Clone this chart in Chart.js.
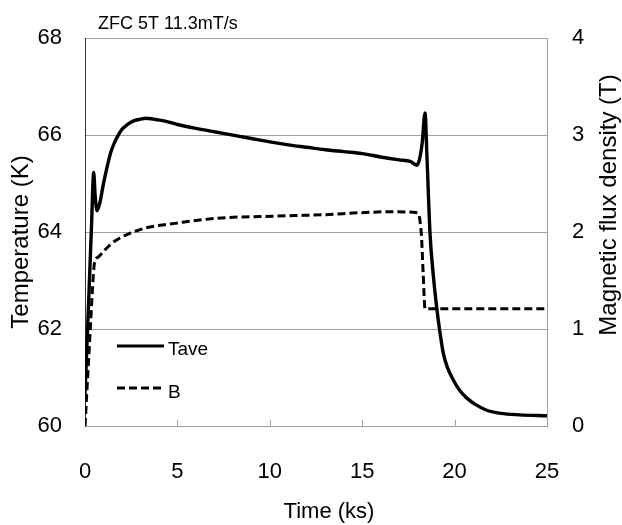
<!DOCTYPE html>
<html>
<head>
<meta charset="utf-8">
<script src="https://cdn.jsdelivr.net/npm/chart.js@4.4.1/dist/chart.umd.min.js"></script>
<style>
  html, body { margin: 0; padding: 0; background: #fff; }
  #wrap { width: 622px; height: 525px; }
</style>
</head>
<body>
<div id="wrap"><canvas id="tempChart" width="622" height="525"></canvas></div>
<script>
// ---- data ----
const chartTitle = "ZFC 5T 11.3mT/s";

// Tave (K) vs time (ks)
const taveTime = [0, 0.2, 0.35, 0.47, 0.55, 0.65, 0.8, 1.0, 1.2, 1.4, 1.6, 1.8, 2.0, 2.3, 2.6, 3.0, 3.3, 3.7, 4.2,
    5, 6, 7, 8, 9, 10, 11, 12, 13, 14, 15, 16, 17, 17.6, 17.95, 18.1, 18.25, 18.4, 18.5, 18.67, 18.85,
    19.03, 19.2, 19.39, 19.6, 19.93, 20.3, 20.65, 21.1, 21.7, 22.5, 23.5, 25];
const taveTemp = [60.65, 62.6, 64.1, 65.23, 64.75, 64.44, 64.6, 65.0, 65.35, 65.65, 65.85, 66.0, 66.12, 66.22, 66.29, 66.33, 66.35, 66.33, 66.3,
    66.22, 66.14, 66.07, 66.0, 65.93, 65.86, 65.8, 65.75, 65.7, 65.66, 65.62, 65.55, 65.49, 65.46, 65.38, 65.5, 65.85, 66.46, 65.6, 63.97, 63.1,
    62.45, 61.95, 61.5, 61.22, 60.95, 60.72, 60.58, 60.45, 60.33, 60.26, 60.23, 60.21];

// B (T) vs time (ks)
const bTime = [0, 0.1, 0.2, 0.3, 0.4, 0.52, 0.7, 1.0, 1.42, 1.9, 2.33, 3.23, 4.06, 4.85, 6, 7.67, 9.5, 11.3, 13, 14.9, 16.5, 17.98, 18.2, 18.3, 18.4, 25];
const bField = [0, 0.35, 0.7, 1.05, 1.4, 1.69, 1.74, 1.8, 1.88, 1.94, 1.98, 2.04, 2.07, 2.09, 2.12, 2.15, 2.16, 2.17, 2.18, 2.2, 2.21, 2.2, 1.98, 1.57, 1.21, 1.21];

const xTicks = [0, 5, 10, 15, 20, 25];
const tempTicks = [60, 62, 64, 66, 68];
const bTicks = [0, 1, 2, 3, 4];
const seriesNames = ["Tave", "B"];

const fontFam = "'Liberation Sans', Arial, sans-serif";

// titles, legend and inner tick marks
const extrasPlugin = {
    id: "extras",
    afterDraw(chart) {
        const ctx = chart.ctx;
        const area = chart.chartArea;
        const xs = chart.scales.x;
        ctx.save();
        // small inner ticks on bottom axis
        ctx.strokeStyle = "#a0a0a0";
        ctx.lineWidth = 1;
        xTicks.slice(1, -1).forEach(function (v) {
            const px = Math.round(xs.getPixelForValue(v)) + 0.5;
            ctx.beginPath();
            ctx.moveTo(px, area.bottom);
            ctx.lineTo(px, area.bottom - 6);
            ctx.stroke();
        });

        ctx.fillStyle = "#000";
        // chart title
        ctx.font = "18px " + fontFam;
        ctx.textAlign = "left";
        ctx.textBaseline = "alphabetic";
        ctx.fillText(chartTitle, 98, 29);

        // axis titles
        ctx.font = "22px " + fontFam;
        ctx.textAlign = "center";
        ctx.textBaseline = "middle";
        ctx.fillText("Time (ks)", 329, 512);

        ctx.save();
        ctx.translate(21, 242);
        ctx.rotate(-Math.PI / 2);
        ctx.font = "24px " + fontFam;
        ctx.fillText("Temperature (K)", 0, 0);
        ctx.restore();

        ctx.save();
        ctx.translate(609, 205);
        ctx.rotate(-Math.PI / 2);
        ctx.font = "24px " + fontFam;
        ctx.fillText("Magnetic flux density (T)", 0, 0);
        ctx.restore();

        // legend
        ctx.strokeStyle = "#000";
        ctx.lineWidth = 3;
        ctx.beginPath();
        ctx.moveTo(117, 346);
        ctx.lineTo(164, 346);
        ctx.stroke();
        ctx.setLineDash([8, 4]);
        ctx.beginPath();
        ctx.moveTo(117, 388);
        ctx.lineTo(164, 388);
        ctx.stroke();
        ctx.setLineDash([]);
        ctx.font = "19px " + fontFam;
        ctx.textAlign = "left";
        ctx.fillText(seriesNames[0], 168, 350);
        ctx.fillText(seriesNames[1], 168, 393);
        ctx.restore();
    }
};

const ctx = document.querySelector("#tempChart").getContext("2d");

const lineChart = new Chart(ctx, {
    type: "line",
    data: {
        datasets: [{
            label: seriesNames[0],
            data: taveTime.map(function (t, i) { return { x: t, y: taveTemp[i] }; }),
            yAxisID: "y",
            borderColor: "#000",
            borderWidth: 3.4,
            pointRadius: 0,
            cubicInterpolationMode: "monotone",
            fill: false
        }, {
            label: seriesNames[1],
            data: bTime.map(function (t, i) { return { x: t, y: bField[i] }; }),
            yAxisID: "yB",
            borderColor: "#000",
            borderWidth: 3,
            borderDash: [8, 4],
            pointRadius: 0,
            cubicInterpolationMode: "monotone",
            fill: false
        }]
    },
    options: {
        responsive: false,
        animation: false,
        devicePixelRatio: 1,
        layout: { padding: { top: 37, left: 0, right: 0, bottom: 0 } },
        plugins: {
            legend: { display: false },
            title: { display: false },
            tooltip: { enabled: false }
        },
        scales: {
            x: {
                type: "linear",
                min: 0,
                max: 25,
                afterFit: function (s) { s.height = 99; },
                afterBuildTicks: function (s) { s.ticks = xTicks.map(function (v) { return { value: v }; }); },
                grid: { display: false, drawTicks: false },
                border: { display: true, color: "#a0a0a0", width: 1 },
                ticks: { padding: 33, color: "#000", font: { family: fontFam, size: 22 } }
            },
            y: {
                position: "left",
                min: 60,
                max: 68,
                afterFit: function (s) { s.width = 85; },
                afterBuildTicks: function (s) { s.ticks = tempTicks.map(function (v) { return { value: v }; }); },
                grid: { color: "#a0a0a0", lineWidth: 1, drawTicks: false },
                border: { display: true, color: "#333", width: 1 },
                ticks: { padding: 23, color: "#000", font: { family: fontFam, size: 22 } }
            },
            yB: {
                position: "right",
                min: 0,
                max: 4,
                afterFit: function (s) { s.width = 75; },
                afterBuildTicks: function (s) { s.ticks = bTicks.map(function (v) { return { value: v }; }); },
                grid: { display: false, drawTicks: false },
                border: { display: true, color: "#a0a0a0", width: 1 },
                ticks: { padding: 25, color: "#000", font: { family: fontFam, size: 22 } }
            }
        }
    },
    plugins: [extrasPlugin]
});
</script>
</body>
</html>
